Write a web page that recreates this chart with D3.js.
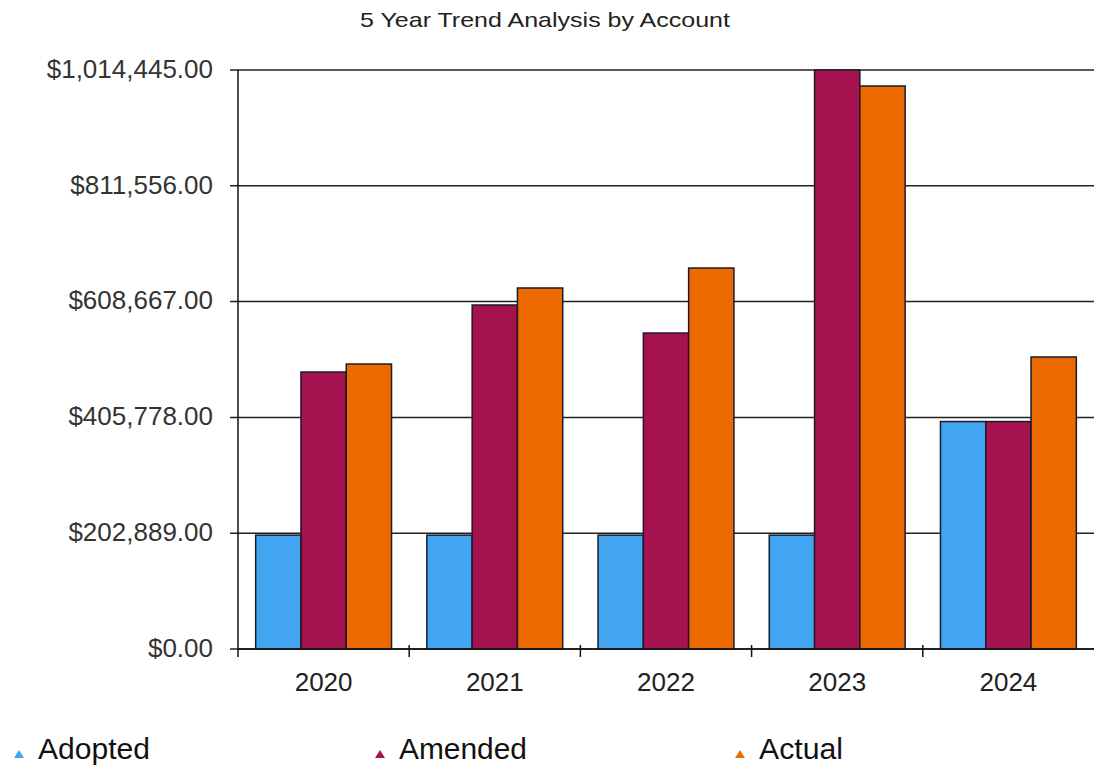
<!DOCTYPE html>
<html><head><meta charset="utf-8">
<script src="https://cdn.jsdelivr.net/npm/d3@7"></script>
<style>body{margin:0;background:#fff;} text{font-family:"Liberation Sans",Arial,sans-serif;}</style>
</head><body><svg id="c" width="1094" height="768"></svg>
<script>
const years = ["2020","2021","2022","2023","2024"];
const seriesNames = ["Adopted","Amended","Actual"];
const adopted = [199500, 199500, 199500, 199500, 398500];
const amended = [485300, 602700, 553600, 1014445, 398500];
const actual = [499300, 632500, 667500, 986400, 511600];
const yTicks = [0, 202889, 405778, 608667, 811556, 1014445];
const colors = ["#41a5f2", "#a6124f", "#ec6a00"];
const title = "5 Year Trend Analysis by Account";

const svg = d3.select("#c");
const m = {l:238, r:1094, t:70, b:649};
const x = d3.scaleBand().domain(years).range([m.l, m.r]).paddingInner(0).paddingOuter(0);
const xs = d3.scaleBand().domain(seriesNames).range([0, x.bandwidth()]).paddingInner(0).paddingOuter(0.39);
const y = d3.scaleLinear().domain([0, 1014445]).range([m.b, m.t]);
const fmt = v => "$" + d3.format(",.2f")(v);

svg.append("text").attr("x", 545).attr("y", 27).attr("text-anchor","middle")
  .attr("font-size", 21).attr("fill","#222").attr("textLength", 370).attr("lengthAdjust","spacingAndGlyphs").text(title);

// gridlines
svg.append("g").selectAll("line").data(yTicks).join("line")
  .attr("x1", m.l - 8).attr("x2", m.r).attr("y1", d=>y(d)).attr("y2", d=>y(d))
  .attr("stroke","#222").attr("stroke-width",1.5);

// y labels
svg.append("g").selectAll("text").data(yTicks).join("text")
  .attr("x", 213).attr("y", d=>y(d)).attr("dy","0.3em").attr("text-anchor","end")
  .attr("font-size", 26).attr("fill","#333").text(fmt);

// bars
const data = years.map((yr,i)=>({yr, vals:[adopted[i], amended[i], actual[i]]}));
const g = svg.append("g");
data.forEach(d=>{
  g.selectAll(null).data(d.vals.map((v,j)=>({v, s:seriesNames[j], j}))).join("rect")
    .attr("x", e => x(d.yr) + xs(e.s))
    .attr("width", xs.bandwidth())
    .attr("y", e => y(e.v))
    .attr("height", e => m.b - y(e.v))
    .attr("fill", e => colors[e.j])
    .attr("stroke", "#1a1a2a").attr("stroke-width", 1.5);
});

// axes lines
svg.append("line").attr("x1", m.l).attr("x2", m.l).attr("y1", m.t).attr("y2", m.b+8).attr("stroke","#111").attr("stroke-width",1.5);
svg.append("line").attr("x1", m.l).attr("x2", m.r).attr("y1", m.b).attr("y2", m.b).attr("stroke","#111").attr("stroke-width",1.5);
svg.append("g").selectAll("line").data(years.slice(1)).join("line")
  .attr("x1", d=>x(d)).attr("x2", d=>x(d)).attr("y1", m.b-4).attr("y2", m.b+8)
  .attr("stroke","#111").attr("stroke-width",1.5);

// x labels
svg.append("g").selectAll("text").data(years).join("text")
  .attr("x", d=>x(d)+x.bandwidth()/2).attr("y", 691).attr("text-anchor","middle")
  .attr("font-size", 26).attr("fill","#222").text(d=>d);

// legend
const lx = [14, 375, 735];
const lg = svg.append("g").selectAll("g").data(seriesNames).join("g")
  .attr("transform", (d,i)=>`translate(${lx[i]},758)`);
lg.append("path").attr("d","M0,0 L5,-8 L10,0 Z").attr("fill",(d,i)=>colors[i]);
lg.append("text").attr("x", 24).attr("y", 1).attr("font-size", 29).attr("fill","#111")
  .attr("textLength", (d,i)=>[112,128,84][i]).attr("lengthAdjust","spacingAndGlyphs").text(d=>d);
</script></body></html>
